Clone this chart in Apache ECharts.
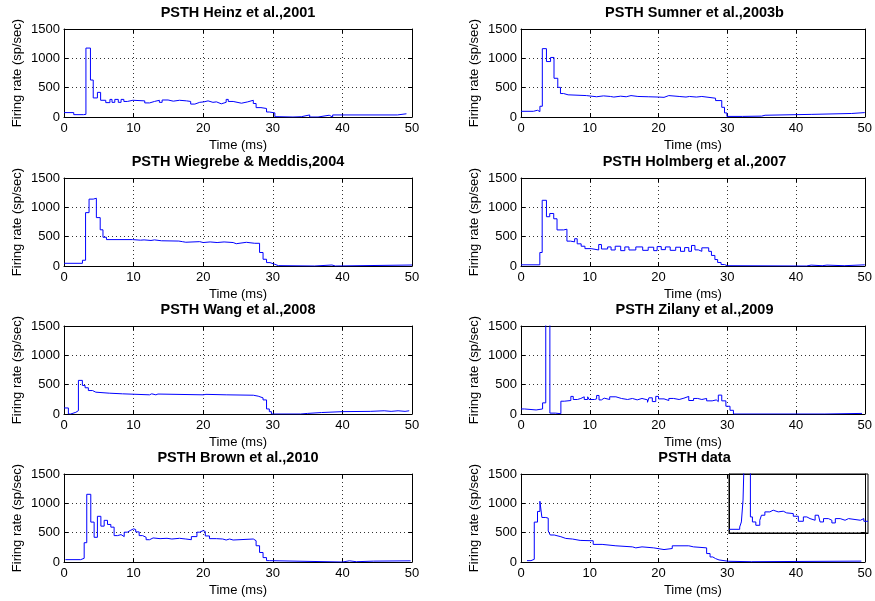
<!DOCTYPE html>
<html>
<head>
<meta charset="utf-8">
<title>PSTH comparison</title>
<script src="https://cdn.jsdelivr.net/npm/echarts@6/dist/echarts.min.js"></script>
<style>
  html, body { margin: 0; padding: 0; background: #fff; }
  #chart { width: 875px; height: 601px; }
</style>
</head>
<body>
<div id="chart"></div>
<script>
// each panel: bin edges in ms (last value closes the final bin) and firing rate per bin (sp/sec)
const heinzT = [0, 1.4, 2.8, 3.15, 3.8, 4.2, 4.8, 5.26, 6.0, 6.6, 6.9, 7.3, 7.8, 8.2, 8.6, 9.1, 9.9, 11.6, 12.3, 13.0, 13.7, 14.1, 14.95, 15.7, 16.6, 17.6, 18.2, 18.8, 19.5, 20.1, 20.7, 21.4, 21.9, 22.6, 23.3, 23.6, 24.3, 25.5, 26.4, 27.2, 27.6, 28.3, 29.1, 29.5, 30.3, 30.9, 32.9, 34.1, 35.3, 36.5, 38.1, 38.6, 47.9, 49.2]
const heinzR = [75, 40, 45, 1175, 630, 325, 420, 285, 245, 300, 250, 300, 250, 300, 265, 285, 275, 240, 265, 285, 250, 290, 270, 285, 275, 265, 220, 250, 258, 275, 250, 258, 225, 250, 300, 265, 235, 258, 285, 230, 160, 145, 85, 70, 5, 0, 5, 35, 0, 30, 0, 35, 55]

const sumnerT = [0, 1.8, 2.4, 2.75, 3.1, 3.7, 4.3, 4.8, 5.35, 5.74, 6.2, 6.85, 9.5, 11.0, 12.0, 13.0, 13.5, 14.5, 15.3, 16.0, 17.0, 18.5, 20.0, 20.8, 21.5, 23.0, 24.0, 24.5, 25.5, 26.3, 28.3, 29.2, 29.6, 29.95, 32.2, 35.0, 35.5, 42.3, 48.1, 50]
const sumnerR = [97, 115, 92, 183, 1165, 945, 1015, 660, 505, 400, 378, 365, 345, 360, 350, 340, 355, 345, 365, 350, 345, 340, 335, 365, 350, 340, 350, 340, 350, 320, 280, 165, 70, 10, 15, 30, 45, 60, 75]

const wiegrebeT = [0, 2.65, 3.1, 3.6, 4.2, 4.65, 5.2, 5.6, 6.1, 9.85, 11.0, 11.5, 12.5, 13.0, 14.0, 16.5, 17.0, 17.5, 19.5, 20.0, 21.0, 22.0, 23.0, 24.3, 24.75, 26.2, 27.4, 27.6, 28.1, 28.6, 29.1, 29.6, 30.3, 30.8, 36.0, 38.5, 39.0, 50]
const wiegrebeR = [46, 98, 910, 1140, 1155, 825, 617, 490, 450, 440, 445, 435, 445, 430, 425, 415, 405, 415, 400, 410, 400, 410, 400, 380, 404, 387, 400, 387, 230, 115, 58, 29, 6, 0, 17, 0, 17]

const holmbergT = [0, 2.74, 3.08, 3.7, 4.18, 4.76, 5.24, 6.2, 6.68, 7.2, 7.8, 8.17, 8.75, 9.3, 10.2, 11.3, 11.7, 12.6, 13.1, 13.7, 14.5, 15.1, 15.7, 16.7, 17.7, 18.5, 19.3, 19.8, 20.4, 21.0, 21.7, 22.5, 23.2, 23.8, 24.4, 24.8, 25.3, 25.8, 26.3, 27.3, 27.7, 28.2, 28.6, 29.1, 29.6, 30.0, 41.5, 42.2, 43.8, 44.5, 47.0, 50]
const holmbergR = [20, 230, 1120, 840, 895, 805, 615, 627, 424, 412, 465, 378, 337, 296, 273, 366, 290, 325, 273, 337, 262, 325, 273, 325, 267, 320, 262, 331, 279, 325, 267, 320, 250, 314, 250, 350, 275, 250, 310, 250, 180, 110, 60, 25, 5, 0, 15, 5, 15, 5, 20]

const wangT = [0, 0.63, 0.96, 1.7, 2.07, 2.64, 3.03, 3.5, 4.1, 4.57, 6.5, 8.4, 12.3, 12.6, 13.2, 13.5, 20.0, 20.4, 23.3, 27.2, 27.9, 28.6, 29.1, 29.5, 29.8, 34.0, 35.0, 37.0, 40.0, 44.0, 46.0, 47.0, 48.0, 49.0, 49.6]
const wangR = [103, 0, 29, 57, 573, 487, 447, 400, 372, 355, 344, 327, 344, 327, 340, 327, 335, 327, 320, 304, 275, 240, 86, 40, 0, 10, 25, 40, 45, 55, 45, 55, 45, 55]

const zilanyT = [0, 0.5, 2.2, 3.14, 3.6, 4.2, 5.0, 5.8, 6.3, 7.25, 7.6, 8.2, 8.7, 9.2, 9.7, 9.9, 10.7, 11.0, 11.35, 11.7, 12.1, 12.9, 13.8, 14.6, 15.5, 16.2, 16.9, 17.6, 18.4, 18.6, 19.1, 19.6, 20.0, 20.8, 21.5, 22.2, 23.0, 23.7, 24.4, 25.1, 25.7, 26.3, 27.0, 27.8, 28.4, 28.7, 29.2, 29.8, 30.4, 30.9, 44.2, 49.6]
const zilanyR = [86, 69, 86, 190, 3000, 15, 5, 218, 230, 300, 247, 265, 293, 247, 293, 247, 258, 316, 240, 270, 247, 293, 265, 247, 265, 241, 265, 241, 200, 276, 212, 300, 258, 230, 265, 247, 270, 300, 230, 265, 247, 265, 224, 240, 212, 322, 224, 132, 63, 0, 10]

const brownT = [0.2, 2.4, 2.9, 3.27, 3.85, 4.33, 4.8, 5.3, 5.77, 6.25, 6.73, 7.2, 7.7, 8.2, 8.65, 9.1, 9.5, 10.0, 10.3, 10.8, 11.3, 11.8, 12.3, 12.8, 13.8, 14.8, 15.5, 16.6, 17.5, 18.3, 19.1, 19.5, 20.0, 20.3, 20.9, 21.9, 22.8, 23.3, 23.8, 24.3, 27.2, 27.6, 28.1, 28.6, 29.1, 29.5, 40.0, 41.0, 42.0, 44.5, 49.8]
const brownR = [40, 63, 329, 1154, 680, 421, 779, 611, 710, 640, 594, 450, 467, 433, 508, 536, 565, 554, 513, 450, 421, 380, 410, 398, 404, 392, 404, 392, 380, 433, 508, 536, 520, 444, 398, 392, 375, 392, 375, 392, 363, 277, 162, 75, 23, 0, 20, 5, 15, 20]

const dataT = [0.87, 1.45, 1.93, 2.4, 2.75, 3.04, 3.6, 3.96, 4.25, 4.83, 5.8, 6.5, 7.5, 8.6, 10.5, 11.8, 13.8, 16.2, 16.7, 17.6, 19.3, 20.8, 22.0, 24.4, 25.1, 27.0, 27.5, 27.9, 28.3, 28.8, 30.2, 33.5, 49.5]
const dataR = [23, 46, 680, 862, 1035, 759, 747, 529, 460, 431, 402, 391, 368, 362, 300, 276, 258, 241, 258, 241, 212, 230, 276, 258, 241, 144, 86, 58, 35, 12, 5, 15]

// inset of the recorded data (own scale, drawn in the top right corner of the last panel)
const insetT = [0, 1.54, 1.78, 2.02, 2.27, 3.08, 3.37, 3.86, 4.43, 4.67, 5.16, 5.88, 6.36, 7.08, 7.81, 8.29, 9.25, 9.98, 10.7, 11.2, 11.66, 12.39, 12.87, 13.1, 13.6, 14.3, 14.8, 15.3, 16.0, 16.7, 17.2, 18.9, 19.4, 20]
const insetR = [94, 153, 281, 835, 2500, 409, 281, 196, 324, 452, 537, 580, 537, 554, 511, 494, 426, 298, 409, 366, 324, 452, 477, 281, 366, 324, 256, 366, 324, 366, 324, 366, 298]

const titles = [
  'PSTH Heinz et al.,2001', 'PSTH Sumner et al.,2003b',
  'PSTH Wiegrebe & Meddis,2004', 'PSTH Holmberg et al.,2007',
  'PSTH Wang et al.,2008', 'PSTH Zilany et al.,2009',
  'PSTH Brown et al.,2010', 'PSTH data'
]
const edges = [heinzT, sumnerT, wiegrebeT, holmbergT, wangT, zilanyT, brownT, dataT]
const rates = [heinzR, sumnerR, wiegrebeR, holmbergR, wangR, zilanyR, brownR, dataR]

const font = "'Liberation Sans', Arial, sans-serif"
const rowTop = [29, 178, 326, 474]
const black = { color: '#000', width: 1 }
const tick = { show: true, inside: true, length: 4, lineStyle: { color: '#000' } }

function stairs(t, r) {
  const pts = r.map((v, k) => [t[k], v])
  pts.push([t[t.length - 1], r[r.length - 1]])
  return pts
}

const grid = [], xAxis = [], yAxis = [], series = [], title = []

titles.forEach((name, i) => {
  const col = i % 2
  const row = Math.floor(i / 2)
  const left = col ? 521 : 64
  const width = col ? 347 : 348
  grid.push({ left, top: rowTop[row], width, height: 88 })
  title.push({
    text: name,
    left: left + width / 2,
    top: rowTop[row] - 24,
    textAlign: 'center',
    padding: 0,
    textStyle: { fontFamily: font, fontSize: 14.5, fontWeight: 'bold', color: '#000' }
  })
  xAxis.push({
    type: 'value', gridIndex: i, min: 0, max: 50, interval: 10,
    name: 'Time (ms)', nameLocation: 'middle', nameGap: 22,
    nameTextStyle: { fontFamily: font, fontSize: 13, color: '#000' },
    axisLine: { show: true, lineStyle: black },
    axisTick: tick,
    axisLabel: { fontFamily: font, fontSize: 13, color: '#000', margin: 5, formatter: v => String(v) },
    splitLine: { show: true, lineStyle: { color: '#333', width: 1, type: [1, 3] } }
  })
  yAxis.push({
    type: 'value', gridIndex: i, min: 0, max: 1500, interval: 500,
    name: 'Firing rate (sp/sec)', nameLocation: 'middle', nameGap: 40,
    nameTextStyle: { fontFamily: font, fontSize: 13, color: '#000' },
    axisLine: { show: true, lineStyle: black },
    axisTick: tick,
    axisLabel: { fontFamily: font, fontSize: 13, color: '#000', margin: 4, formatter: v => String(v) },
    splitLine: { show: true, lineStyle: { color: '#333', width: 1, type: [1, 3] } }
  })
  series.push({
    type: 'line', step: 'end', xAxisIndex: i, yAxisIndex: i,
    data: stairs(edges[i], rates[i]),
    symbol: 'none', clip: true,
    lineStyle: { color: '#0000ff', width: 1 }
  })
})

// top and right edges of each box, with inward ticks like the bottom/left ones
titles.forEach((name, i) => {
  xAxis.push({
    type: 'value', gridIndex: i, position: 'top', min: 0, max: 50, interval: 10,
    axisLine: { show: true, onZero: false, lineStyle: black },
    axisTick: tick, axisLabel: { show: false }, splitLine: { show: false }
  })
  yAxis.push({
    type: 'value', gridIndex: i, position: 'right', min: 0, max: 1500, interval: 500,
    axisLine: { show: true, onZero: false, lineStyle: black },
    axisTick: tick, axisLabel: { show: false }, splitLine: { show: false }
  })
})

// inset box
grid.push({
  left: 729, top: 474, width: 139, height: 59,
  show: true, borderColor: '#000', borderWidth: 1, backgroundColor: 'transparent'
})
xAxis.push({
  type: 'value', gridIndex: 8, min: 0, max: 20,
  axisLine: { show: true, onZero: false, lineStyle: black },
  axisTick: { show: false }, axisLabel: { show: false }, splitLine: { show: false }
})
yAxis.push({
  type: 'value', gridIndex: 8, min: 0, max: 1500,
  axisLine: { show: true, onZero: false, lineStyle: black },
  axisTick: { show: false }, axisLabel: { show: false }, splitLine: { show: false }
})
series.push({
  type: 'line', step: 'end', xAxisIndex: 16, yAxisIndex: 16,
  data: stairs(insetT, insetR),
  symbol: 'none', clip: true,
  lineStyle: { color: '#0000ff', width: 1 }
})

const chart = echarts.init(document.getElementById('chart'))
chart.setOption({
  animation: false,
  backgroundColor: '#fff',
  title, grid, xAxis, yAxis, series
})
</script>
</body>
</html>
